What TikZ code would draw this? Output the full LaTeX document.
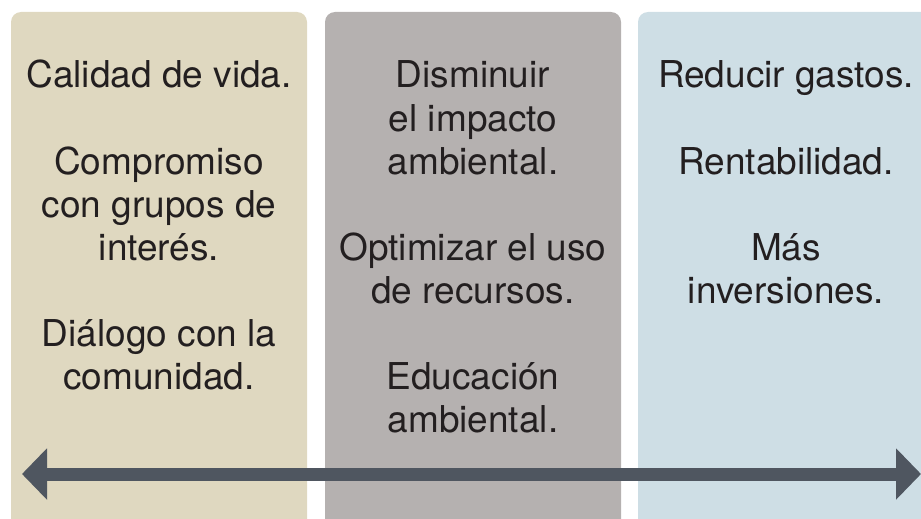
\documentclass[tikz,border=0pt]{standalone}
\usepackage{fontspec}
\setmainfont{TeX Gyre Heros}
\usepackage{tikz}
\usetikzlibrary{arrows.meta,positioning}
\definecolor{beige}{HTML}{DFD8C0}
\definecolor{grispanel}{HTML}{B5B1B0}
\definecolor{azulpanel}{HTML}{CEDEE5}
\definecolor{flecha}{HTML}{4F5660}
\definecolor{texto}{HTML}{231F20}
\tikzset{
  panel/.style={rounded corners=10pt, draw=none},
  linea/.style={anchor=base, inner sep=0pt, text=texto,
    font=\fontsize{37}{43}\selectfont}
}

\begin{document}
\begin{tikzpicture}[x=1pt,y=-1pt]
  \clip (0,0) rectangle (921,519);

  % paneles
  \fill[panel, beige] (11,12) rectangle (307,540);
  \fill[panel, grispanel] (325,12) rectangle (621,540);
  \fill[panel, azulpanel] (638,12) rectangle (934,540);

  % textos, una linea cada vez
  \foreach \x/\y/\t [count=\i] in {
      159/88/Calidad de vida.,
      159/174/Compromiso,
      159/217/con grupos de,
      159/260/interés.,
      159/346/Diálogo con la,
      159/389/comunidad.,
      473/88/Disminuir,
      473/131/el impacto,
      473/174/ambiental.,
      473/260/Optimizar el uso,
      473/303/de recursos.,
      473/389/Educación,
      473/432/ambiental.,
      786/88/Reducir gastos.,
      786/174/Rentabilidad.,
      786/260/Más,
      786/303/inversiones.}
    {
      \node[linea] (txt\i) at (\x,\y) {\t};
    }

  % flecha doble
  \coordinate (izq) at (22,474);
  \coordinate (der) at (921,474);
  \draw[flecha, line width=13pt,
    {Triangle[length=25pt,width=50pt]}-{Triangle[length=25pt,width=50pt]}]
    (izq) -- (der);
\end{tikzpicture}
\end{document}
